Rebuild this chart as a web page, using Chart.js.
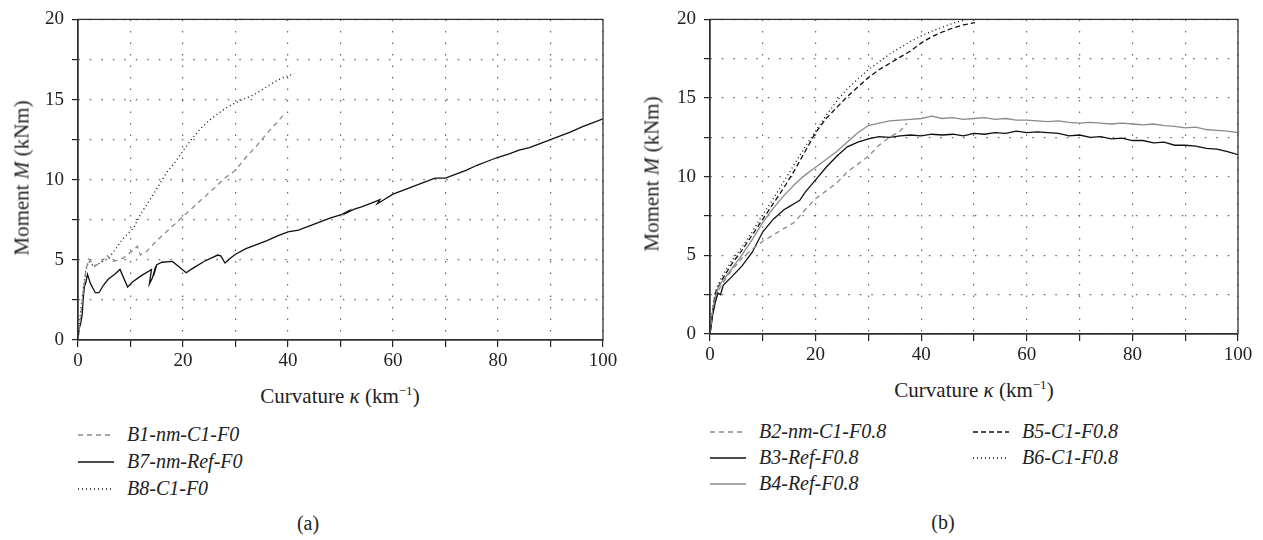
<!DOCTYPE html>
<html>
<head>
<meta charset="utf-8">
<script src="https://cdn.jsdelivr.net/npm/chart.js@4.4.1/dist/chart.umd.min.js"></script>
<style>
  body { margin: 0; background: #fff; width: 1263px; height: 540px; position: relative; overflow: hidden;
         font-family: "Liberation Serif", "DejaVu Serif", serif; color: #222; }
  canvas { position: absolute; top: 0; }
  .lbl { position: absolute; white-space: nowrap; transform: translate(-50%, -50%); font-size: 21px; }
  .ytitle { transform: translate(-50%, -50%) rotate(-90deg); }
  .leg { position: absolute; font-size: 20px; font-style: italic; white-space: nowrap; }
  .leg svg { position: absolute; left: 0; top: 6px; }
  .leg span { position: absolute; top: 0; }
  sup { font-size: 0.62em; }
</style>
</head>
<body>
<canvas id="chartA" width="625" height="375" style="left:0px"></canvas>
<canvas id="chartB" width="628" height="369" style="left:632px"></canvas>

<div class="lbl ytitle" style="left:22px; top:178px">Moment <i>M</i> (kNm)</div>
<div class="lbl" style="left:340px; top:396px">Curvature <i>κ</i> (km<sup>−1</sup>)</div>
<div class="lbl ytitle" style="left:652px; top:174px">Moment <i>M</i> (kNm)</div>
<div class="lbl" style="left:974px; top:390px">Curvature <i>κ</i> (km<sup>−1</sup>)</div>
<div class="lbl" style="left:308px; top:523px; font-size:20px">(a)</div>
<div class="lbl" style="left:943px; top:522px; font-size:20px">(b)</div>

<div id="legA"></div>
<div id="legB"></div>

<script>
// --- panel (a) ---
const kB1 = [0, 0.5, 1, 1.5, 2, 2.5, 3.2, 4.5, 5.5, 6.4, 8, 9, 10.5, 11.3, 11.9, 13, 15, 17, 20, 22, 24, 26, 28, 30, 32, 34, 36, 38, 39];
const mB1 = [0, 1.5, 3, 4.3, 5.05, 4.9, 4.6, 4.9, 5.3, 4.9, 5.0, 5.2, 5.6, 5.85, 5.3, 5.5, 6.2, 6.8, 7.7, 8.3, 8.9, 9.5, 10.1, 10.6, 11.4, 12.1, 12.9, 13.6, 14.0];

const kB7 = [0, 0.2, 0.5, 0.8, 1.0, 1.2, 1.5, 1.8, 2.4, 3.3, 4.0, 4.8, 5.8, 7.0, 8.0, 9.45, 10.3, 12.0, 14.0, 13.6, 14.2, 14.8, 14.4, 15.0, 16.0, 18.0, 20.6, 22, 24, 26.6, 27.2, 28, 29, 30, 32, 34, 36, 38, 40, 42, 44, 46, 48, 50, 51.5, 51.0, 52.5, 54, 56, 57.5, 57.0, 58.5, 60, 62, 64, 66, 68, 70, 72, 74, 76, 78, 80, 82, 84, 86, 88, 90, 92, 94, 96, 98, 100];
const mB7 = [0, 0.7, 1.0, 1.6, 2.6, 3.3, 3.6, 4.1, 3.5, 2.95, 2.95, 3.4, 3.8, 4.1, 4.4, 3.3, 3.6, 4.0, 4.4, 3.5, 3.9, 4.6, 4.0, 4.7, 4.85, 4.9, 4.2, 4.5, 4.9, 5.3, 5.25, 4.8, 5.1, 5.35, 5.7, 5.95, 6.2, 6.5, 6.75, 6.85, 7.1, 7.35, 7.6, 7.8, 8.05, 7.9, 8.15, 8.3, 8.55, 8.75, 8.5, 8.8, 9.1, 9.35, 9.6, 9.85, 10.1, 10.1, 10.35, 10.6, 10.9, 11.15, 11.4, 11.6, 11.85, 12.0, 12.25, 12.5, 12.75, 13.0, 13.3, 13.55, 13.8];

const kB8 = [0, 0.5, 1, 1.5, 2, 3, 4.2, 5.8, 7, 8.5, 10.6, 12, 13.8, 15.5, 17, 18.5, 20, 21.8, 23.4, 25, 26.6, 28.3, 30, 31.7, 33.5, 35.5, 37.4, 39.3, 41.2];
const mB8 = [0, 1.8, 3.2, 4.4, 4.9, 4.6, 4.8, 5.1, 5.6, 6.3, 7.0, 7.9, 8.8, 9.7, 10.5, 11.1, 11.8, 12.6, 13.2, 13.7, 14.1, 14.5, 14.8, 15.05, 15.3, 15.7, 16.1, 16.4, 16.6];

// --- panel (b) ---
const kB2 = [0, 0.5, 1, 2, 3, 4, 6, 8, 10, 12, 14, 16, 18, 20, 22, 24, 26, 28, 30, 32, 34, 36, 37.3];
const mB2 = [0, 1.5, 2.4, 3.0, 3.5, 4.0, 4.8, 5.4, 5.9, 6.3, 6.7, 7.1, 7.9, 8.6, 9.1, 9.6, 10.3, 10.8, 11.3, 12.0, 12.5, 12.9, 13.4];

const kB3 = [0, 0.5, 1, 1.5, 2, 2.5, 4, 6, 8, 10, 12, 14, 15, 16, 17, 18, 20, 22, 24, 26, 28, 30, 32, 34, 36, 38, 40, 42, 44, 46, 48, 50, 52, 54, 56, 58, 60, 62, 64, 66, 68, 70, 72, 74, 76, 78, 80, 82, 84, 86, 88, 90, 92, 94, 96, 98, 100];
const mB3 = [0, 1.2, 2.0, 2.6, 2.5, 3.1, 3.6, 4.3, 5.2, 6.5, 7.3, 7.9, 8.1, 8.3, 8.5, 9.0, 9.8, 10.6, 11.3, 11.9, 12.2, 12.4, 12.55, 12.5, 12.6, 12.65, 12.6, 12.7, 12.65, 12.7, 12.6, 12.75, 12.7, 12.8, 12.75, 12.9, 12.8, 12.85, 12.8, 12.75, 12.6, 12.65, 12.5, 12.55, 12.4, 12.45, 12.3, 12.3, 12.15, 12.2, 12.0, 12.0, 11.95, 11.8, 11.75, 11.6, 11.4];

const kB4 = [0, 0.5, 1, 1.5, 2, 4, 6, 8, 10, 12, 14, 16, 18, 20, 22, 24, 26, 28, 30, 32, 34, 36, 38, 40, 42, 44, 46, 48, 50, 52, 54, 56, 58, 60, 62, 64, 66, 68, 70, 72, 74, 76, 78, 80, 82, 84, 86, 88, 90, 92, 94, 96, 98, 100];
const mB4 = [0, 1.3, 2.3, 2.9, 3.2, 4.1, 5.0, 6.0, 7.1, 8.0, 8.8, 9.5, 10.1, 10.6, 11.1, 11.6, 12.2, 12.8, 13.25, 13.4, 13.55, 13.6, 13.65, 13.7, 13.85, 13.7, 13.75, 13.65, 13.7, 13.75, 13.65, 13.7, 13.6, 13.6, 13.55, 13.5, 13.55, 13.45, 13.4, 13.45, 13.4, 13.35, 13.4, 13.35, 13.3, 13.35, 13.25, 13.2, 13.1, 13.15, 13.0, 12.95, 12.9, 12.8];

const kB5 = [0, 0.5, 1, 2, 4, 6, 8, 10, 12, 14, 16, 18, 20, 22, 24, 26, 28, 30, 32, 34, 36, 38, 40, 42, 44, 46, 48, 50.2];
const mB5 = [0, 1.4, 2.6, 3.3, 4.4, 5.3, 6.3, 7.3, 8.3, 9.3, 10.4, 11.6, 12.8, 13.7, 14.4, 15.1, 15.7, 16.3, 16.8, 17.2, 17.6, 18.0, 18.5, 18.9, 19.2, 19.45, 19.65, 19.8];

const kB6 = [0, 0.5, 1, 2, 4, 6, 8, 10, 12, 14, 16, 18, 20, 22, 24, 26, 28, 30, 32, 34, 36, 38, 40, 42, 44, 46, 48, 50];
const mB6 = [0, 1.6, 2.7, 3.5, 4.6, 5.5, 6.5, 7.6, 8.6, 9.7, 10.8, 11.9, 12.9, 13.9, 14.8, 15.6, 16.2, 16.8, 17.3, 17.8, 18.2, 18.6, 18.95, 19.25, 19.5, 19.75, 19.95, 20.1];

const xMax = 100, yMax = 20;

// styles for each curve
const GRAY = '#8a8a8a';
const seriesA = [
    { label: 'B1-nm-C1-F0', k: kB1, m: mB1, color: GRAY, dash: [5, 4] },
    { label: 'B7-nm-Ref-F0', k: kB7, m: mB7, color: '#111', dash: [] },
    { label: 'B8-C1-F0', k: kB8, m: mB8, color: '#111', dash: [1, 3] }
];
const seriesB = [
    { label: 'B2-nm-C1-F0.8', k: kB2, m: mB2, color: GRAY, dash: [5, 4] },
    { label: 'B3-Ref-F0.8', k: kB3, m: mB3, color: '#111', dash: [] },
    { label: 'B4-Ref-F0.8', k: kB4, m: mB4, color: GRAY, dash: [] },
    { label: 'B5-C1-F0.8', k: kB5, m: mB5, color: '#111', dash: [5, 3] },
    { label: 'B6-C1-F0.8', k: kB6, m: mB6, color: '#111', dash: [1, 3] }
];

// frame around plot area (top + right edges too)
const boxPlugin = {
    id: 'box',
    afterDraw(chart) {
        const a = chart.chartArea, c = chart.ctx;
        c.save();
        c.strokeStyle = '#333';
        c.lineWidth = 1.3;
        c.strokeRect(a.left, a.top, a.right - a.left, a.bottom - a.top);
        c.restore();
    }
};

function makeDatasets(series) {
    return series.map(s => ({
        label: s.label,
        data: s.k.map((k, i) => ({ x: k, y: s.m[i] })),
        borderColor: s.color,
        borderDash: s.dash,
        borderWidth: 1.3,
        pointRadius: 0,
        showLine: true,
        fill: false,
        tension: 0
    }));
}

function makeChart(id, series, padTop, xHeight) {
    const tickFont = { family: 'Liberation Serif', size: 19 };
    return new Chart(document.getElementById(id), {
        type: 'scatter',
        data: { datasets: makeDatasets(series) },
        plugins: [boxPlugin],
        options: {
            responsive: false,
            animation: false,
            layout: { padding: { top: padTop, right: 22, left: 0, bottom: 0 } },
            plugins: { legend: { display: false }, tooltip: { enabled: false } },
            scales: {
                x: {
                    type: 'linear', min: 0, max: xMax,
                    afterFit: s => { s.height = xHeight; },
                    ticks: {
                        stepSize: 10, font: tickFont, color: '#222', padding: 3, maxRotation: 0,
                        callback: v => (v % 20 === 0 ? String(v) : '')
                    },
                    grid: { color: '#666', lineWidth: 1.2, tickColor: '#222', tickLength: 7, tickWidth: 1.2 },
                    border: { display: true, color: '#222', width: 1.3, dash: [1.5, 10] }
                },
                y: {
                    type: 'linear', min: 0, max: yMax,
                    afterFit: s => { s.width = 78; },
                    ticks: {
                        stepSize: 2.5, font: tickFont, color: '#222', padding: 8,
                        callback: v => (Math.abs(v % 5) < 1e-6 ? String(v) : '')
                    },
                    grid: { color: '#666', lineWidth: 1.2, tickColor: '#222', tickLength: 6, tickWidth: 1.2 },
                    border: { display: true, color: '#222', width: 1.3, dash: [1.5, 10] }
                }
            }
        }
    });
}

makeChart('chartA', seriesA, 16, 35);
makeChart('chartB', seriesB, 13, 35);

// html legends with line samples
function legendItem(parent, s, x, y) {
    const d = document.createElement('div');
    d.className = 'leg';
    d.style.left = x + 'px';
    d.style.top = (y - 12) + 'px';
    const dash = s.dash.length ? s.dash.join(' ') : 'none';
    d.innerHTML = `<svg width="36" height="12"><line x1="0" y1="6" x2="36" y2="6" stroke="${s.color}" stroke-width="1.4" stroke-dasharray="${dash}"/></svg>` +
        `<span style="left:49px">${s.label}</span>`;
    parent.appendChild(d);
}
const legA = document.getElementById('legA');
seriesA.forEach((s, i) => legendItem(legA, s, 78, 435 + i * 27));
const legB = document.getElementById('legB');
legendItem(legB, seriesB[0], 710, 432);
legendItem(legB, seriesB[1], 710, 458);
legendItem(legB, seriesB[2], 710, 484);
legendItem(legB, seriesB[3], 973, 432);
legendItem(legB, seriesB[4], 973, 458);
</script>
</body>
</html>
